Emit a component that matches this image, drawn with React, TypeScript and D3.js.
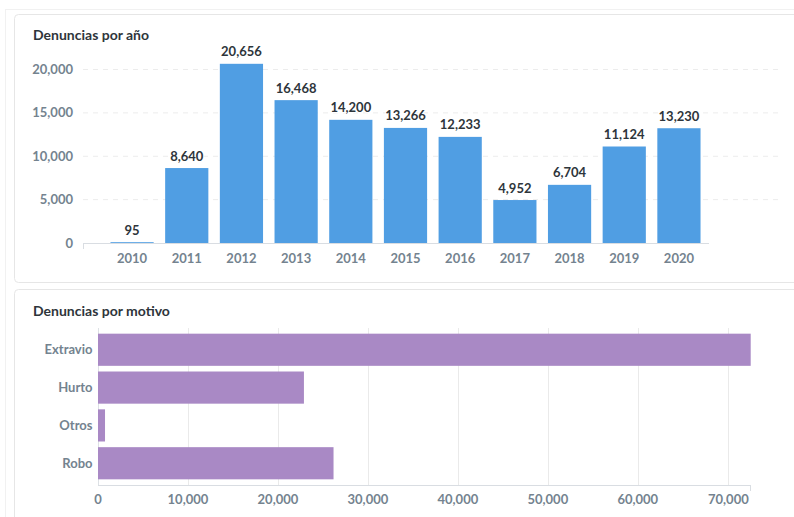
import React, { useEffect, useRef } from 'react';
import * as d3 from 'd3';

const years = ['2010', '2011', '2012', '2013', '2014', '2015', '2016', '2017', '2018', '2019', '2020'];
const yearCounts = [95, 8640, 20656, 16468, 14200, 13266, 12233, 4952, 6704, 11124, 13230];
const yTicks = [0, 5000, 10000, 15000, 20000];

const motives = ['Extravio', 'Hurto', 'Otros', 'Robo'];
const motiveCounts = [72550, 22890, 780, 26180];
const xTicks = [0, 10000, 20000, 30000, 40000, 50000, 60000, 70000];

const BLUE = '#509ee3';
const PURPLE = '#a989c5';
const LABEL = '#74838f';
const TITLE = '#2e353b';
const FONT = 'Lato, "Open Sans", sans-serif';

export default function App() {
  const svgRef = useRef<SVGSVGElement>(null);

  useEffect(() => {
    if (!svgRef.current) return;
    const svg = d3.select(svgRef.current);
    svg.selectAll('*').remove();
    const fmt = d3.format(',');

    // page frame + cards
    svg.append('rect').attr('x', 5.5).attr('y', 9.5).attr('width', 820).attr('height', 540)
      .attr('fill', 'none').attr('stroke', '#f1f1f1');
    const cards = [[14.5, 14.5, 268], [14.5, 289.5, 260]];
    cards.forEach(([x, y, h]) => {
      svg.append('rect').attr('x', x).attr('y', y).attr('width', 800).attr('height', h)
        .attr('rx', 4).attr('fill', '#fff').attr('stroke', '#e6e6e6');
    });

    // ---- Denuncias por año ----
    const top = svg.append('g');
    top.append('text').attr('x', 33).attr('y', 40).text('Denuncias por año')
      .attr('font-family', FONT).attr('font-size', 14).attr('font-weight', 700).attr('fill', TITLE);

    const x = d3.scaleBand().domain(years).range([105, 706]).paddingInner(0.21).paddingOuter(0.1);
    const y = d3.scaleLinear().domain([0, 20000]).range([243, 69.5]);

    top.append('g').selectAll('line').data(yTicks.filter((t) => t > 0)).enter().append('line')
      .attr('x1', 83).attr('x2', 783).attr('y1', (d) => y(d)).attr('y2', (d) => y(d))
      .attr('stroke', '#ececec').attr('stroke-dasharray', '5,5');

    top.append('g').selectAll('text').data(yTicks).enter().append('text')
      .attr('x', 73).attr('y', (d) => y(d)).attr('dy', '0.35em').attr('text-anchor', 'end')
      .text((d) => fmt(d))
      .attr('font-family', FONT).attr('font-size', 13).attr('font-weight', 700).attr('fill', LABEL);

    top.append('g').selectAll('rect').data(years).enter().append('rect')
      .attr('x', (d) => x(d) || 0).attr('width', x.bandwidth())
      .attr('y', (d, i) => y(yearCounts[i])).attr('height', (d, i) => y(0) - y(yearCounts[i]))
      .attr('fill', BLUE);

    top.append('line').attr('x1', 83).attr('x2', 709).attr('y1', 243.5).attr('y2', 243.5).attr('stroke', '#d9dde2');
    top.append('line').attr('x1', 83.5).attr('x2', 83.5).attr('y1', 243).attr('y2', 249).attr('stroke', '#d9dde2');

    top.append('g').selectAll('text').data(years).enter().append('text')
      .attr('x', (d) => (x(d) || 0) + x.bandwidth() / 2).attr('y', 263).attr('text-anchor', 'middle')
      .text((d) => d)
      .attr('font-family', FONT).attr('font-size', 13).attr('font-weight', 700).attr('fill', LABEL);

    top.append('g').selectAll('text').data(years).enter().append('text')
      .attr('x', (d) => (x(d) || 0) + x.bandwidth() / 2).attr('y', (d, i) => y(yearCounts[i]) - 7.5)
      .attr('text-anchor', 'middle')
      .text((d, i) => fmt(yearCounts[i]))
      .attr('font-family', FONT).attr('font-size', 13).attr('font-weight', 700).attr('fill', TITLE)
      .attr('stroke', '#fff').attr('stroke-width', 2).attr('paint-order', 'stroke');

    // ---- Denuncias por motivo ----
    const bot = svg.append('g');
    bot.append('text').attr('x', 33).attr('y', 315.5).text('Denuncias por motivo')
      .attr('font-family', FONT).attr('font-size', 14).attr('font-weight', 700).attr('fill', TITLE);

    const hx = d3.scaleLinear().domain([0, d3.max(motiveCounts) || 0]).range([98, 750.7]);
    const hy = d3.scaleBand().domain(motives).range([328, 485]).padding(0.15);

    bot.append('g').selectAll('line').data(xTicks).enter().append('line')
      .attr('x1', (d) => Math.round(hx(d)) + 0.5).attr('x2', (d) => Math.round(hx(d)) + 0.5)
      .attr('y1', 328).attr('y2', 485).attr('stroke', (d) => (d === 0 ? '#dde1e5' : '#eaeaea'));

    bot.append('g').selectAll('rect').data(motives).enter().append('rect')
      .attr('x', hx(0)).attr('y', (d) => hy(d) || 0).attr('height', hy.bandwidth())
      .attr('width', (d, i) => hx(motiveCounts[i]) - hx(0))
      .attr('fill', PURPLE);

    bot.append('line').attr('x1', 98).attr('x2', 751).attr('y1', 485.5).attr('y2', 485.5).attr('stroke', '#d9dde2');
    bot.append('line').attr('x1', 750.5).attr('x2', 750.5).attr('y1', 485).attr('y2', 491).attr('stroke', '#d9dde2');

    bot.append('g').selectAll('text').data(motives).enter().append('text')
      .attr('x', 92.5).attr('y', (d) => (hy(d) || 0) + hy.bandwidth() / 2).attr('dy', '0.35em')
      .attr('text-anchor', 'end').text((d) => d)
      .attr('font-family', FONT).attr('font-size', 13).attr('font-weight', 700).attr('fill', LABEL);

    bot.append('g').selectAll('text').data(xTicks).enter().append('text')
      .attr('x', (d) => hx(d)).attr('y', 503.5).attr('text-anchor', (d) => (d === 70000 ? 'end' : 'middle'))
      .attr('dx', (d) => (d === 70000 ? 21 : 0))
      .text((d) => fmt(d))
      .attr('font-family', FONT).attr('font-size', 13).attr('font-weight', 700).attr('fill', LABEL);
  }, []);

  return (
    <svg
      ref={svgRef}
      width={794}
      height={517}
      style={{ position: 'absolute', left: 0, top: 0, background: '#fff' }}
    />
  );
}
